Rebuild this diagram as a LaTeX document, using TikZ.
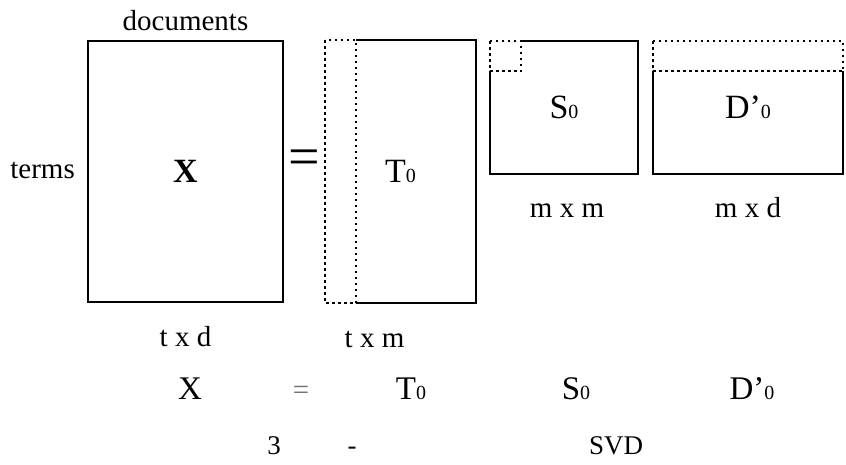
\documentclass[tikz,border=0pt]{standalone}
\usepackage{fontspec}
\setmainfont{Liberation Serif}
\usetikzlibrary{positioning}
\newcommand{\lowidx}[1]{{\fontsize{20}{20}\selectfont #1}}

\begin{document}
\begin{tikzpicture}[x=1pt,y=-1pt,
  matbox/.style={line width=2.5pt,inner sep=0pt,outer sep=0pt,font=\fontsize{34}{34}\selectfont},
  lbl/.style={inner sep=0pt,text height=20pt,text depth=6pt,font=\fontsize{29}{29}\selectfont},
  row/.style={inner sep=0pt,anchor=base,font=\fontsize{33}{33}\selectfont},
  captxt/.style={inner sep=0pt,anchor=base,font=\fontsize{27}{27}\selectfont},
  solidln/.style={line width=2.5pt},
  dotln/.style={line width=2.5pt,dash pattern=on 2.5pt off 3.5pt}
]
\useasboundingbox (0,0) rectangle (846,464);
% matrices
\node[matbox,draw,minimum width=195pt,minimum height=261pt] (X) at (185.5,171.5) {\bfseries X};
\node[matbox,minimum width=151pt,minimum height=263pt] (T) at (400.5,171.5) {T\lowidx{0}};
\node[matbox,minimum width=148pt,minimum height=133pt] (S) at (564,107.5) {S\lowidx{0}};
\node[matbox,minimum width=190pt,minimum height=133pt] (D) at (748,107.5) {D’\lowidx{0}};
% solid and dotted parts
\draw[solidln] ([xshift=31pt]T.north west) -| (T.south east) -- ([xshift=31pt]T.south west);
\draw[dotln] (T.north west) rectangle ([xshift=31pt]T.south west);
\draw[solidln] ([xshift=31pt]S.north west) -| (S.south east) -| ([yshift=-30pt]S.north west);
\draw[dotln] (S.north west) rectangle ([xshift=31pt,yshift=-30pt]S.north west);
\draw[solidln] ([yshift=-30pt]D.north east) -- (D.south east) -- (D.south west) -- ([yshift=-30pt]D.north west);
\draw[dotln] (D.north west) rectangle ([yshift=-30pt]D.north east);
\node[inner sep=0pt,font=\fontsize{56}{56}\selectfont] (eq) at (304,163) {=};
% labels
\node[lbl,above=4pt of X] (docs) {documents};
\node[lbl,left=13pt of X] (terms) {terms};
\node[lbl,below=24pt of X] (txd) {t x d};
\node[lbl,below=24pt of T,xshift=-26pt] (txm) {t x m};
\node[lbl,below=23pt of S,xshift=3pt] (mxm) {m x m};
\node[lbl,below=23pt of D] (mxd) {m x d};
% product row
\node[row] (rX) at (190,399) {X};
\node[row,text=black!55,font=\fontsize{29}{29}\selectfont] (rEq) at (301,399) {=};
\node[row] (rT) at (411,399) {T\lowidx{0}};
\node[row] (rS) at (576,399) {S\lowidx{0}};
\node[row] (rD) at (752,399) {D’\lowidx{0}};
% caption
\node[captxt] (cap3) at (274,454) {3};
\node[captxt] (capdash) at (352,454) {-};
\node[captxt] (capsvd) at (616,454) {SVD};
\end{tikzpicture}
\end{document}
